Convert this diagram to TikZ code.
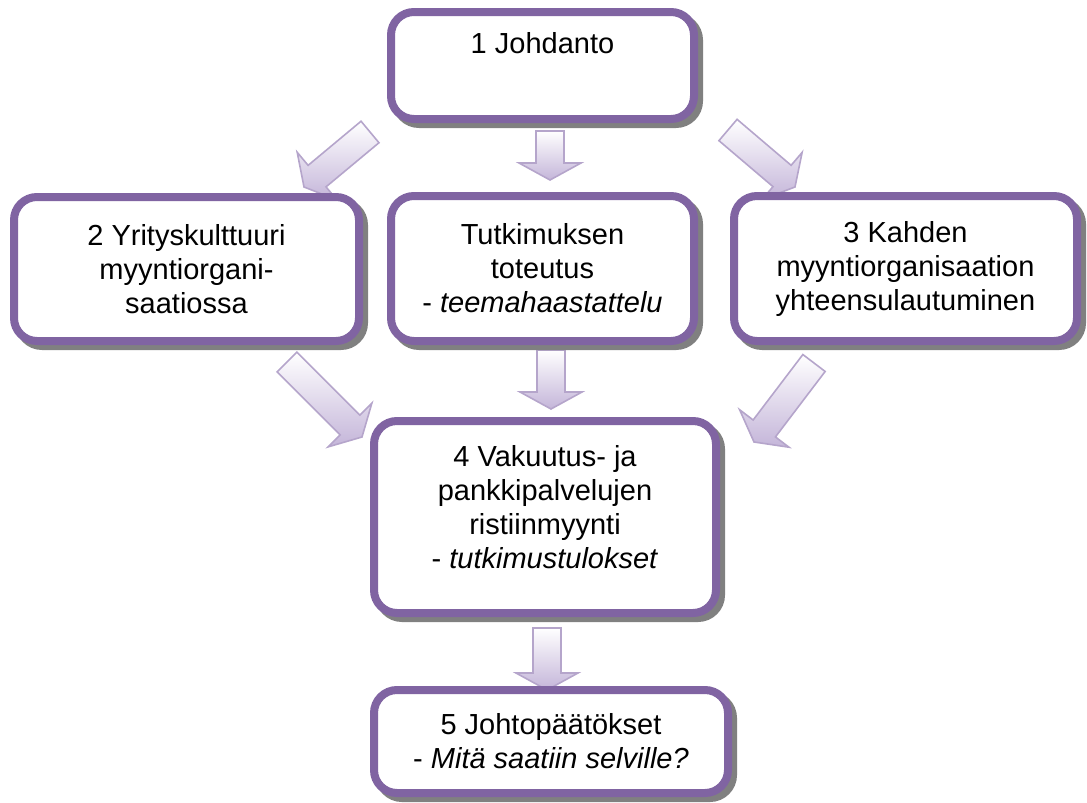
\documentclass[tikz,border=0pt]{standalone}
\usepackage{fontspec}
\setmainfont{Liberation Sans}
\usetikzlibrary{calc}
\definecolor{boxpurple}{HTML}{8064A2}
\definecolor{shadowgray}{HTML}{808080}
\definecolor{arrowedge}{HTML}{B5A5CB}
\definecolor{arrowfill}{HTML}{C4B5D9}
\newcommand{\blockarrow}[2]{%
  \coordinate (#1hb) at ($(#2)!17pt!(#1)$);
  \draw[blockarrow] ($(#1)!14pt!90:(#2)$) -- ($(#1hb)!14pt!90:(#2)$) -- ($(#1hb)!31pt!90:(#2)$) -- (#2)
    -- ($(#1hb)!31pt!-90:(#2)$) -- ($(#1hb)!14pt!-90:(#2)$) -- ($(#1)!14pt!-90:(#2)$) -- cycle;
}
\begin{document}
\begin{tikzpicture}[x=1pt,y=-1pt,
  box/.style={draw=boxpurple, line width=8pt, rounded corners=23pt, fill=white, align=center, inner sep=0pt,
    font=\fontsize{29}{34}\selectfont,
    preaction={draw=shadowgray, fill=shadowgray, line width=8pt, transform canvas={xshift=5pt,yshift=-5pt}}},
  blockarrow/.style={draw=arrowedge, line width=1.6pt, line join=miter, top color=white, bottom color=arrowfill}]
\useasboundingbox (0,0) rectangle (1087,803);
\coordinate (a) at (550,131);
\coordinate (b) at (550,180);
\coordinate (c) at (370,132);
\coordinate (d) at (304,187);
\coordinate (e) at (728,130);
\coordinate (f) at (795,187);
\coordinate (g) at (287,362);
\coordinate (h) at (362,437);
\coordinate (i) at (551,350);
\coordinate (j) at (551,409);
\coordinate (k) at (814,363);
\coordinate (l) at (754,442);
\coordinate (m) at (547,628);
\coordinate (n) at (547,690);
\blockarrow{a}{b}
\blockarrow{c}{d}
\blockarrow{e}{f}
\blockarrow{g}{h}
\blockarrow{i}{j}
\blockarrow{k}{l}
\blockarrow{m}{n}
\node[box, minimum width=303pt, minimum height=107pt] (intro) at (542.5,65.5) {1 Johdanto\\\strut};
\node[box, minimum width=345pt, minimum height=144pt] (culture) at (186.5,269) {2 Yrityskulttuuri\\myyntiorgani-\\saatiossa};
\node[box, minimum width=303pt, minimum height=145pt] (study) at (542.5,268.5) {Tutkimuksen\\toteutus\\- \textit{teemahaastattelu}};
\node[box, minimum width=343pt, minimum height=145pt] (merger) at (905.5,268.5) {3 Kahden\\myyntiorganisaation\\yhteensulautuminen};
\node[box, minimum width=342pt, minimum height=192pt] (results) at (545,517) {4 Vakuutus- ja\\pankkipalvelujen\\ristiinmyynti\\- \textit{tutkimustulokset}\\[-24pt]\strut};
\node[box, minimum width=354pt, minimum height=103pt] (concl) at (551,741.5) {5 Johtopäätökset\\- \textit{Mitä saatiin selville?}};
\end{tikzpicture}
\end{document}
